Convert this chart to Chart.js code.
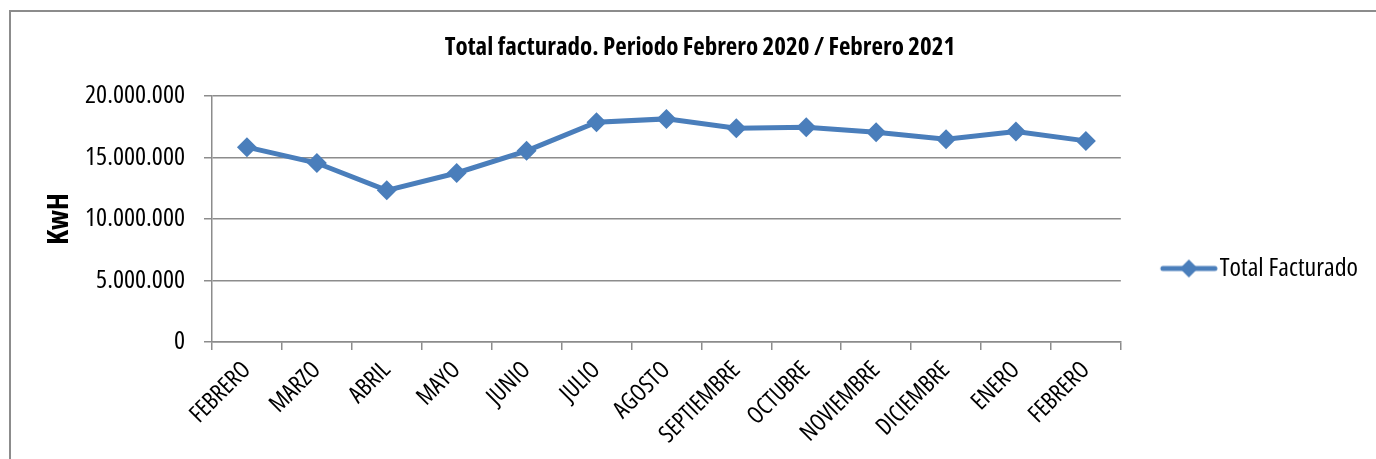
<!DOCTYPE html>
<html>
<head>
<meta charset="utf-8">
<script src="https://cdn.jsdelivr.net/npm/chart.js@4.4.1/dist/chart.umd.min.js"></script>
<style>
  html, body { margin: 0; padding: 0; background: #fff; overflow: hidden; }
  #wrap { position: relative; width: 1376px; height: 459px; }
  #frame { position: absolute; left: 9px; top: 10px; width: 1400px; height: 480px;
           border-top: 2px solid #8c8c8c; border-left: 2px solid #8c8c8c; box-sizing: border-box; }
  canvas { position: absolute; left: 0; top: 0; }
</style>
</head>
<body>
<div id="wrap">
  <canvas id="canvas" width="1376" height="459"></canvas>
  <div id="frame"></div>
</div>
<script>
    var FONT = '"Open Sans", "DejaVu Sans Condensed", sans-serif';
    var NARROW = 'semi-condensed';          // goes into the canvas font shorthand
    var NARROW_BOLD = 'bold semi-condensed';

    var months = ["FEBRERO", "MARZO", "ABRIL", "MAYO", "JUNIO", "JULIO", "AGOSTO",
                  "SEPTIEMBRE", "OCTUBRE", "NOVIEMBRE", "DICIEMBRE", "ENERO", "FEBRERO"];
    var totalFacturado = [15840000, 14550000, 12330000, 13740000, 15540000, 17870000, 18140000,
                          17380000, 17460000, 17060000, 16490000, 17110000, 16350000];
    var yTicks = [0, 5000000, 10000000, 15000000, 20000000];

    var blue = '#4a7ebb';
    var grey = '#8c8c8c';

    // legend marker: line with a diamond, drawn right of the canvas centre
    var legendMark = document.createElement('canvas');
    legendMark.width = 94;
    legendMark.height = 22;
    (function() {
        var c = legendMark.getContext('2d');
        c.strokeStyle = blue;
        c.lineWidth = 5;
        c.lineCap = 'round';
        c.beginPath();
        c.moveTo(38, 11); c.lineTo(90, 11);
        c.stroke();
        c.fillStyle = blue;
        c.beginPath();
        c.moveTo(64, 2); c.lineTo(73, 11); c.lineTo(64, 20); c.lineTo(55, 11);
        c.closePath();
        c.fill();
    })();

    var fmt = function(v) {
        return String(v).replace(/\B(?=(\d{3})+(?!\d))/g, '.');
    };

    var config = {
        type: 'line',
        data: {
            labels: months,
            datasets: [{
                label: "Total Facturado",
                data: totalFacturado,
                borderColor: blue,
                backgroundColor: blue,
                borderWidth: 5,
                pointStyle: 'rectRot',
                pointRadius: 10,
                pointBackgroundColor: blue,
                pointBorderWidth: 0,
                tension: 0,
                fill: false
            }]
        },
        options: {
            responsive: false,
            animation: false,
            layout: {
                padding: { left: 32, right: 8, top: 0, bottom: 0 }
            },
            plugins: {
                title: {
                    display: true,
                    text: 'Total facturado. Periodo Febrero 2020 / Febrero 2021',
                    color: '#000',
                    font: { family: FONT, size: 25, weight: NARROW_BOLD },
                    padding: { top: 33, bottom: 33 }
                },
                legend: {
                    position: 'right',
                    title: {
                        display: true,
                        text: ' ',
                        font: { size: 15 },
                        padding: { top: 0, bottom: 60 }
                    },
                    labels: {
                        usePointStyle: true,
                        pointStyle: legendMark,
                        pointStyleWidth: 70,
                        color: '#000',
                        font: { family: FONT, size: 26, weight: NARROW },
                        padding: 16
                    }
                },
                tooltip: { enabled: false }
            },
            scales: {
                x: {
                    offset: true,
                    grid: {
                        offset: true,
                        drawOnChartArea: false,
                        drawTicks: true,
                        tickLength: 8,
                        color: grey,
                        lineWidth: 1.5
                    },
                    border: { color: grey, width: 1.5 },
                    ticks: {
                        minRotation: 45,
                        maxRotation: 45,
                        autoSkip: false,
                        padding: 6,
                        color: '#000',
                        font: { family: FONT, size: 24, weight: NARROW }
                    },
                    afterFit: function(scale) { scale.height = 117; }
                },
                y: {
                    min: 0,
                    max: 20000000,
                    afterBuildTicks: function(scale) {
                        scale.ticks = yTicks.map(function(v) { return { value: v }; });
                    },
                    grid: {
                        color: grey,
                        lineWidth: 1.5,
                        tickLength: 8
                    },
                    border: { color: grey, width: 1.5 },
                    ticks: {
                        padding: 19,
                        color: '#000',
                        font: { family: FONT, size: 26, weight: NARROW },
                        callback: function(v) { return fmt(v); }
                    },
                    title: {
                        display: true,
                        text: 'KwH',
                        color: '#000',
                        font: { family: FONT, size: 29, weight: NARROW_BOLD },
                        padding: { top: 10, bottom: 0 }
                    },
                    afterFit: function(scale) { scale.width = 180; }
                }
            }
        }
    };

    window.onload = function() {
        window.myLine = new Chart(document.getElementById("canvas"), config);
    };
</script>
</body>
</html>
